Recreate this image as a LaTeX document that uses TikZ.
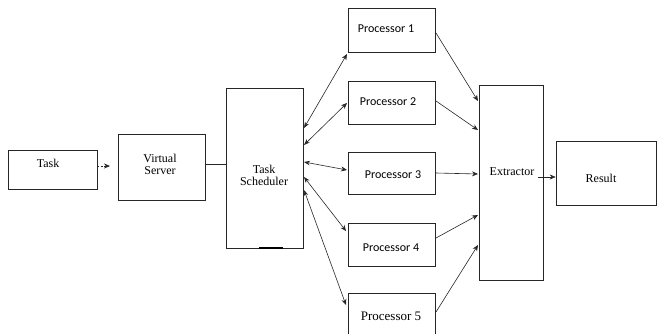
\documentclass[tikz,border=0pt]{standalone}
\usepackage{fontspec}
\setmainfont{Liberation Serif}
\newfontfamily\calib{Carlito}
\usetikzlibrary{arrows.meta}
\begin{document}
\begin{tikzpicture}[x=1pt,y=-1pt,
  box/.style={draw=black!85,line width=0.6pt,inner sep=0pt,minimum width=#1},
  txt/.style={inner sep=0pt,font=\rmfamily\fontsize{12}{14}\selectfont,align=center},
  ptxt/.style={inner sep=0pt,font=\calib\fontsize{12}{14}\selectfont},
  conn/.style={draw=black!85,line width=0.6pt},
  tip/.style={-{Stealth[length=6pt,width=5pt]}},
  btip/.style={{Stealth[length=6pt,width=4.5pt]}-{Stealth[length=6pt,width=5pt]}}]
\useasboundingbox (0,0) rectangle (657,334);
\begin{scope}
\clip (0,0) rectangle (657,334);
% boxes
\node[box=89pt,minimum height=39pt] (task) at (52.5,169.5) {};
\node[box=87pt,minimum height=66pt] (vs) at (161.5,167) {};
\node[box=77pt,minimum height=160pt] (ts) at (264.5,168) {};
\node[box=87pt,minimum height=44pt] (p1) at (391.5,30) {};
\node[box=87pt,minimum height=43pt] (p2) at (391.5,102.5) {};
\node[box=87pt,minimum height=42pt] (p3) at (391.5,173) {};
\node[box=87pt,minimum height=43pt] (p4) at (391.5,244.5) {};
\node[box=87pt,minimum height=50pt] (p5) at (391.5,318) {};
\node[box=64pt,minimum height=195pt] (ex) at (511,182.5) {};
\node[box=100pt,minimum height=64pt] (res) at (606,173) {};
\end{scope}
% small mark at bottom of scheduler
\draw[line width=1.4pt] (259,248) -- (283,248);
% texts
\node[txt] (tTask) at (48,163) {Task};
\node[txt] (tVS) at (160,164.5) {Virtual\\[-2pt]Server};
\node[txt] (tTS) at (264,175) {Task\\[-2pt]Scheduler};
\node[ptxt] (tP1) at (386,29) {Processor 1};
\node[ptxt] (tP2) at (388,102) {Processor 2};
\node[ptxt] (tP3) at (393,175) {Processor 3};
\node[ptxt] (tP4) at (391,248) {Processor 4};
\node[txt,font=\rmfamily\fontsize{13}{15}\selectfont] (tP5) at (391,316) {Processor 5};
\node[txt] (tEx) at (512,172) {Extractor};
\node[txt] (tRes) at (601,178) {Result};
% coordinates
\coordinate (s1) at (304,128);
\coordinate (s2) at (304,145);
\coordinate (s3) at (304,162);
\coordinate (s4) at (304,177);
\coordinate (s5) at (304,190);
\coordinate (q1) at (347,54);
\coordinate (q2) at (347,103);
\coordinate (q3) at (347,170);
\coordinate (q4) at (346,231);
\coordinate (q5) at (346,305);
\coordinate (o1) at (436,33);
\coordinate (o2) at (436,101);
\coordinate (o3) at (436,173);
\coordinate (o4) at (436,238);
\coordinate (o5) at (436,312);
\coordinate (e1) at (478,101);
\coordinate (e2) at (478,130);
\coordinate (e3) at (478,174);
\coordinate (e4) at (478,215);
\coordinate (e5) at (478,245);
\coordinate (xo) at (538,177);
\coordinate (dv) at (110,166);
% connectors
\draw[conn,dashed,dash pattern=on 2pt off 1.5pt,tip] (task.east |- dv) -- (dv);
\draw[conn] (vs.east |- 0,164) -- (ts.west |- 0,164);
\draw[conn,btip] (s1) -- (q1);
\draw[conn,btip] (s2) -- (q2);
\draw[conn,btip] (s3) -- (q3);
\draw[conn,btip] (s4) -- (q4);
\draw[conn,btip] (s5) -- (q5);
\draw[conn,tip] (o1) -- (e1);
\draw[conn,tip] (o2) -- (e2);
\draw[conn,tip] (o3) -- (e3);
\draw[conn,tip] (o4) -- (e4);
\draw[conn,tip] (o5) -- (e5);
\draw[conn,tip] (xo) -- (res.west |- xo);
\end{tikzpicture}
\end{document}
